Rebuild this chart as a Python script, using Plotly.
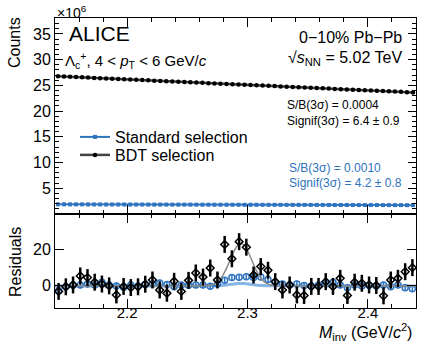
import numpy as np
import plotly.graph_objects as go
from plotly.subplots import make_subplots

# invariant-mass bin centres (GeV/c^2)
mass_top = np.round(2.1425 + 0.005 * np.arange(60), 4)
mass_res = np.round(2.143 + 0.006 * np.arange(50), 3)

# top panel, counts x 10^6
bdt_counts = [
    26.78, 26.72, 26.67, 26.63, 26.57, 26.52, 26.46, 26.41, 26.36, 26.30,
    26.25, 26.19, 26.14, 26.09, 26.03, 25.98, 25.92, 25.87, 25.82, 25.76,
    25.71, 25.66, 25.60, 25.55, 25.50, 25.44, 25.39, 25.34, 25.28, 25.23,
    25.18, 25.12, 25.07, 25.02, 24.96, 24.91, 24.86, 24.80, 24.75, 24.70,
    24.64, 24.59, 24.54, 24.48, 24.43, 24.38, 24.32, 24.27, 24.22, 24.16,
    24.11, 24.06, 24.00, 23.95, 23.90, 23.84, 23.79, 23.74, 23.68, 23.63,
]
std_counts = [
    1.88, 1.88, 1.87, 1.87, 1.87, 1.86, 1.86, 1.86, 1.85, 1.85,
    1.85, 1.85, 1.84, 1.84, 1.84, 1.83, 1.83, 1.83, 1.83, 1.82,
    1.82, 1.82, 1.82, 1.81, 1.81, 1.81, 1.80, 1.80, 1.80, 1.80,
    1.79, 1.79, 1.79, 1.79, 1.78, 1.78, 1.78, 1.78, 1.77, 1.77,
    1.77, 1.77, 1.76, 1.76, 1.76, 1.76, 1.75, 1.75, 1.75, 1.75,
    1.74, 1.74, 1.74, 1.74, 1.73, 1.73, 1.73, 1.73, 1.72, 1.72,
]

# bottom panel, residuals
bdt_res = [
    -3.0, -0.5, 0.5, 5.4, 4.5, 2.0, 1.0, 0.0, -4.9, -0.3,
    -0.9, -0.5, 0.9, 3.2, -2.2, -4.0, 2.5, -3.0, 3.0, 7.0,
    4.8, 9.7, 3.2, 22.5, 14.7, 24.0, 21.0, 5.9, 10.5, 8.5,
    2.3, -2.2, 0.5, -4.9, -5.2, -0.3, -0.3, 2.3, -0.3, 4.1,
    -5.2, 2.0, 1.4, 0.5, 0.2, -5.4, 3.2, 4.1, 7.7, 9.9,
]
bdt_res_err = 4.6
std_res = [
    -2.7, -0.5, 0.5, 0.5, 1.0, 0.5, 2.0, 0.5, 0.0, -0.8,
    0.5, 0.0, 0.8, 1.0, 1.5, 0.8, -0.5, 0.5, 0.3, 0.5,
    0.5, -0.2, 1.0, 3.0, 4.5, 4.7, 5.0, 4.5, 4.8, 3.5,
    2.0, 1.0, 0.5, 1.0, 0.2, 0.0, 0.5, 1.2, 2.0, 0.5,
    -1.0, 0.5, 0.0, 0.3, 0.0, 0.5, -0.5, 0.5, -1.0, -1.5,
]
std_res_err = 1.8

# signal fits drawn on the residuals
fit_mass = [2.14, 2.2645, 2.2675, 2.2705, 2.2735, 2.2765, 2.2795, 2.2825, 2.2855,
            2.2885, 2.2915, 2.2945, 2.2975, 2.3005, 2.3035, 2.3065, 2.3095,
            2.3125, 2.3155, 2.3185, 2.3215, 2.3245, 2.44]
bdt_fit = [0, 0.09, 0.26, 0.66, 1.51, 3.11, 5.74, 9.46, 13.95, 18.4, 21.8, 23.0,
           21.8, 18.4, 13.95, 9.46, 5.74, 3.11, 1.51, 0.66, 0.26, 0.09, 0]
std_fit = [0, 0.01, 0.02, 0.04, 0.09, 0.18, 0.33, 0.54, 0.8, 1.04, 1.23, 1.3,
           1.23, 1.04, 0.8, 0.54, 0.33, 0.18, 0.09, 0.04, 0.02, 0.01, 0]

BLUE = "#2f74c0"
LIGHT_BLUE = "#86b6e6"
FONT = "Liberation Sans, Arial, sans-serif"

fig = make_subplots(rows=2, cols=1, shared_xaxes=True, vertical_spacing=0, row_heights=[196 / 290, 94 / 290])

fig.add_trace(go.Scatter(x=mass_top, y=std_counts, mode="lines+markers", name="Standard selection", legend="legend",
                         line={"color": BLUE, "width": 2}, marker={"symbol": "square", "size": 4, "color": BLUE}),
              row=1, col=1)
fig.add_trace(go.Scatter(x=mass_top, y=bdt_counts, mode="lines+markers", name="BDT selection", legend="legend2",
                         line={"color": "#444444", "width": 2.5}, marker={"symbol": "circle", "size": 4.5, "color": "black"}),
              row=1, col=1)

fig.add_trace(go.Scatter(x=fit_mass, y=std_fit, mode="lines", line={"color": LIGHT_BLUE, "width": 3, "shape": "spline"},
                         showlegend=False), row=2, col=1)
fig.add_trace(go.Scatter(x=mass_res, y=std_res, mode="markers", showlegend=False,
                         marker={"symbol": "circle-open", "size": 6, "color": BLUE, "line": {"width": 1.5}},
                         error_y={"type": "constant", "value": std_res_err, "color": BLUE, "thickness": 1.5, "width": 0}),
              row=2, col=1)
fig.add_trace(go.Scatter(x=fit_mass, y=bdt_fit, mode="lines", line={"color": "#8a8a8a", "width": 1.5, "shape": "spline"},
                         showlegend=False), row=2, col=1)
fig.add_trace(go.Scatter(x=mass_res, y=bdt_res, mode="markers", showlegend=False,
                         marker={"symbol": "diamond-open", "size": 6, "color": "black", "line": {"width": 1.5}},
                         error_y={"type": "constant", "value": bdt_res_err, "color": "black", "thickness": 2.5, "width": 0}),
              row=2, col=1)

axis_common = dict(showline=True, linecolor="black", linewidth=1, mirror="allticks", ticks="inside",
                   tickcolor="black", showgrid=False, zeroline=False)
fig.update_xaxes(range=[2.14, 2.44], tickvals=[2.2, 2.3, 2.4], ticklen=9, ticklabelstandoff=-9,
                 minor={"ticks": "inside", "ticklen": 4, "dtick": 0.02, "tick0": 2.14, "tickcolor": "black", "showgrid": False},
                 tickfont={"size": 15}, **axis_common)
fig.update_xaxes(showticklabels=False, row=1, col=1)
fig.update_yaxes(range=[0, 38.1], tickvals=[5, 10, 15, 20, 25, 30, 35], ticklen=8,
                 minor={"ticks": "inside", "ticklen": 4, "dtick": 1, "tick0": 0, "tickcolor": "black", "showgrid": False},
                 tickfont={"size": 16}, row=1, col=1, **axis_common)
fig.update_yaxes(range=[-12, 39], tickvals=[0, 20], ticklen=9, tickfont={"size": 16}, row=2, col=1, **axis_common)


def px(x):
    return (x - 55) / 361


def py(y):
    return (308 - y) / 290


notes = [
    ("×10<sup>6</sup>", px(55), py(12), "left", 14, "black"),
    ("ALICE", px(67), py(33), "left", 21, "black"),
    ("Λ<sub>c</sub><sup>+</sup>, 4 &lt; <i>p</i><sub>T</sub> &lt; 6 GeV/<i>c</i>", px(63), py(61), "left", 15, "black"),
    ("0−10% Pb−Pb", px(404), py(37), "right", 16, "black"),
    ("√<i>s</i><sub>NN</sub> = 5.02 TeV", px(404), py(59), "right", 16, "black"),
    ("S/B(3σ) = 0.0004", px(285), py(105), "left", 12, "black"),
    ("Signif(3σ) = 6.4 ± 0.9", px(285), py(121), "left", 12, "black"),
    ("S/B(3σ) = 0.0010", px(287), py(168), "left", 12, BLUE),
    ("Signif(3σ) = 4.2 ± 0.8", px(287), py(183), "left", 12, BLUE),
    ("<i>M</i><sub>inv</sub> (GeV/<i>c</i><sup>2</sup>)", px(414), py(332), "right", 16, "black"),
]
for text, x, y, anchor, size, color in notes:
    fig.add_annotation(text=text, x=x, y=y, xref="paper", yref="paper", xanchor=anchor, yanchor="middle",
                       showarrow=False, font={"size": size, "color": color})

for text, y in [("Counts", py(43)), ("Residuals", py(262))]:
    fig.add_annotation(text=text, x=px(15), y=y, xref="paper", yref="paper", textangle=-90,
                       xanchor="center", yanchor="middle", showarrow=False, font={"size": 16})

legend_style = {"xanchor": "left", "yanchor": "middle", "bgcolor": "rgba(0,0,0,0)", "font": {"size": 16}}
fig.update_layout(
    width=424, height=345,
    margin={"l": 55, "r": 8, "t": 18, "b": 37},
    paper_bgcolor="white", plot_bgcolor="white",
    font={"family": FONT, "color": "black"},
    legend={"x": px(75), "y": py(137), **legend_style},
    legend2={"x": px(75), "y": py(155), **legend_style},
)

fig.write_html("out.html", config={"displayModeBar": False},
               post_script="document.body.style.margin = '0px';")
